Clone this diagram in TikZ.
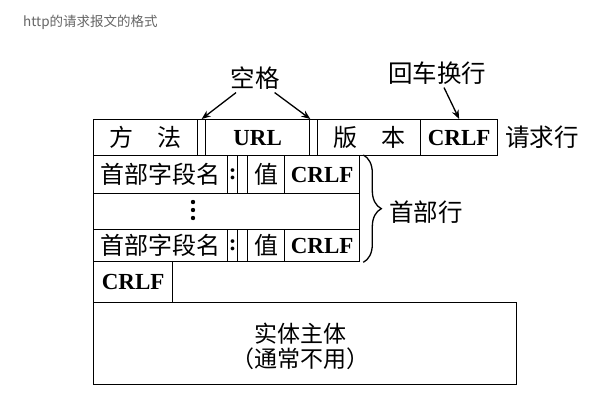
\documentclass[tikz,border=0pt]{standalone}
\usepackage{fontspec}
\setmainfont{Liberation Serif}
\newfontfamily\cjk{Noto Sans CJK SC}
\usetikzlibrary{arrows.meta,decorations.pathreplacing}

\tikzset{
  cell/.style={draw, line width=1.3pt, anchor=north west, inner sep=0pt,
    font=\cjk\fontsize{24}{26}\selectfont},
  en/.style={font=\bfseries\fontsize{23}{26}\selectfont},
  tag/.style={inner sep=3pt, font=\cjk\fontsize{24.5}{26}\selectfont},
  pointer/.style={-{Stealth[length=9pt,width=7pt]}, line width=1.3pt},
}

\begin{document}
\begin{tikzpicture}[x=1pt,y=-1pt]
  \useasboundingbox (0,0) rectangle (604,405);
  % Ueberschrift
  \node[anchor=west, inner sep=0pt, text=black!60, font=\cjk\fontsize{13.5}{16}\selectfont] (title) at (23,22) {http的请求报文的格式};

  % Beschriftungen oben
  \node[tag] (space) at (255,78) {空格};
  \node[tag] (newline) at (437,73) {回车换行};

  % Anfragezeile
  \node[cell, minimum width=104pt, minimum height=36pt] (method) at (93,119) {方\quad 法};
  \node[cell, minimum width=8pt, minimum height=36pt] (gapA) at (197,119) {};
  \node[cell, en, minimum width=104pt, minimum height=36pt] (url) at (205,119) {URL};
  \node[cell, minimum width=8pt, minimum height=36pt] (gapB) at (309,119) {};
  \node[cell, minimum width=103pt, minimum height=36pt] (version) at (317,119) {版\quad 本};
  \node[cell, en, minimum width=77pt, minimum height=36pt] (crlfA) at (420,119) {CRLF};
  \node[tag, anchor=west] (reqline) at (502,137) {请求行};

  % Kopfzeilen
  \node[cell, minimum width=134pt, minimum height=38pt] (nameA) at (93,155) {首部字段名};
  \node[cell, en, minimum width=10pt, minimum height=38pt] (colonA) at (227,155) {:};
  \node[cell, minimum width=10pt, minimum height=38pt] (gapC) at (237,155) {};
  \node[cell, minimum width=37pt, minimum height=38pt] (valueA) at (247,155) {值};
  \node[cell, en, minimum width=75pt, minimum height=38pt] (crlfB) at (284,155) {CRLF};

  \node[cell, minimum width=266pt, minimum height=36pt] (dots) at (93,193) {};
  \foreach \y in {202,210,218}
    \fill (193,\y) circle (2.2pt);

  \node[cell, minimum width=134pt, minimum height=32pt] (nameB) at (93,229) {首部字段名};
  \node[cell, en, minimum width=10pt, minimum height=32pt] (colonB) at (227,229) {:};
  \node[cell, minimum width=10pt, minimum height=32pt] (gapD) at (237,229) {};
  \node[cell, minimum width=37pt, minimum height=32pt] (valueB) at (247,229) {值};
  \node[cell, en, minimum width=75pt, minimum height=32pt] (crlfC) at (284,229) {CRLF};

  \draw[decorate, decoration={brace, amplitude=18pt}, line width=1.3pt]
    ([xshift=3pt]crlfB.north east) -- ([xshift=3pt]crlfC.south east);
  \node[tag, anchor=west] (headline) at (386,212) {首部行};

  % Leerzeile und Rumpf
  \node[cell, en, minimum width=79pt, minimum height=41pt] (crlfD) at (93,261) {CRLF};
  \node[cell, minimum width=423pt, minimum height=82pt] (body) at (93,302) {};
  \node[font=\cjk\fontsize{23}{25}\selectfont, align=center] (bodytext) at (300,346) {实体主体\\（通常不用）};

  \draw[pointer] (space) -- (gapA.north);
  \draw[pointer] (space) -- (url.north east);
  \draw[pointer] (newline) -- (crlfA.north);
\end{tikzpicture}
\end{document}
